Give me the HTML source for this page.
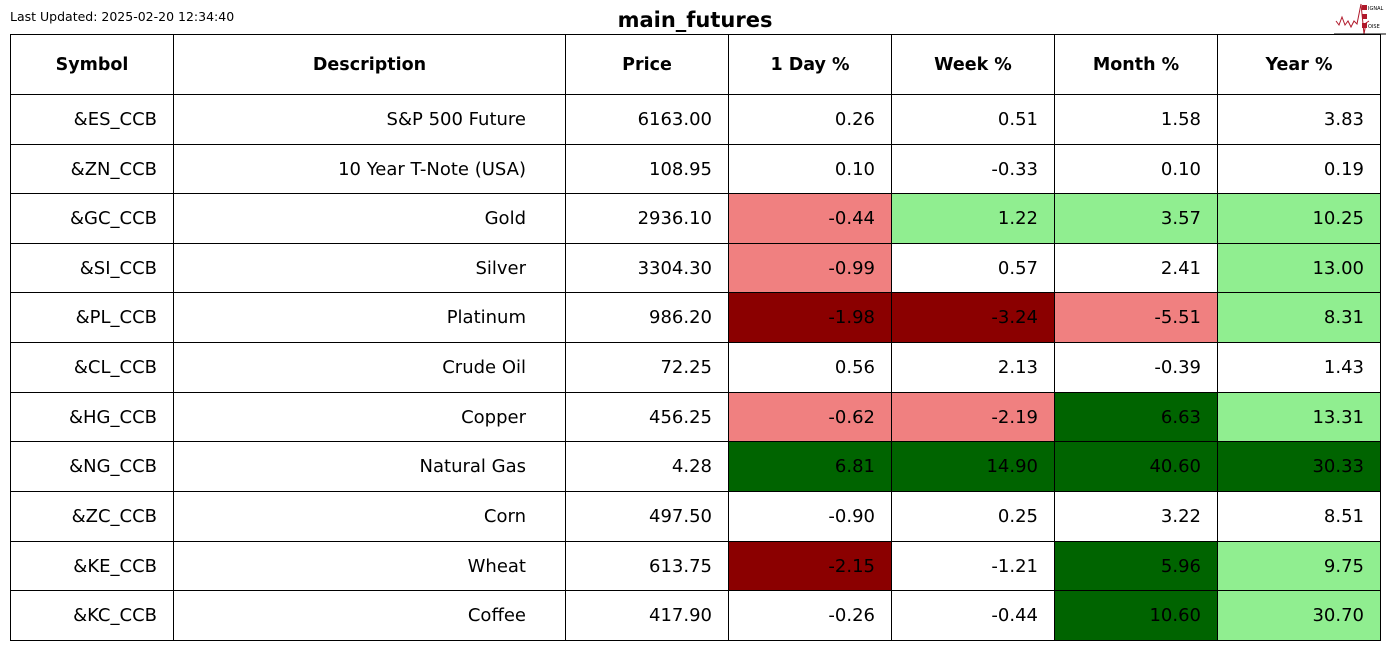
<!DOCTYPE html><html><head><style>
body{margin:0;width:1390px;height:650px;background:#fff;position:relative;font-family:"DejaVu Sans",sans-serif;overflow:hidden}
.c{position:absolute;border:1px solid #000;box-sizing:border-box;font-size:18px;display:flex;align-items:center;justify-content:flex-end;padding-right:16px;color:#000}
.h{justify-content:center;padding:0;font-weight:bold;font-size:17.5px}
.d{padding-right:39px}
</style></head><body>
<div style="position:absolute;left:10px;top:9px;font-size:12.5px">Last Updated: 2025-02-20 12:34:40</div>
<div style="position:absolute;left:0;width:1390px;top:8px;text-align:center;font-size:21px;font-weight:bold">main_futures</div>
<svg style="position:absolute;left:1334px;top:3px" width="52" height="32"><polyline points="2,18 5,22 8,14 11,22 14,18 17,24 20,18 23,21 27,1 30,31 32,20 35,18" fill="none" stroke="#b0182a" stroke-width="1"/><rect x="28" y="2" width="5" height="5" fill="#b0182a"/><rect x="28" y="11" width="5" height="5" fill="#b0182a"/><rect x="28" y="20" width="5" height="5" fill="#b0182a"/><text x="34" y="7" font-size="5" font-family="DejaVu Sans">IGNAL</text><text x="34" y="25" font-size="5" font-family="DejaVu Sans">OISE</text><line x1="0" y1="31" x2="52" y2="31" stroke="#000"/></svg>
<div id="t"></div>
<script>
const X=[10,173,565,728,891,1054,1217,1380];
const Y=[34,94,144,193,243,292,342,392,441,491,541,590,640];
const H=["Symbol","Description","Price","1 Day %","Week %","Month %","Year %"];
const R="#f08080",DR="#8b0000",G="#90ee90",DG="#006400",W="#fff";
const D=[
["&ES_CCB","S&P 500 Future","6163.00","0.26","0.51","1.58","3.83",W,W,W,W],
["&ZN_CCB","10 Year T-Note (USA)","108.95","0.10","-0.33","0.10","0.19",W,W,W,W],
["&GC_CCB","Gold","2936.10","-0.44","1.22","3.57","10.25",R,G,G,G],
["&SI_CCB","Silver","3304.30","-0.99","0.57","2.41","13.00",R,W,W,G],
["&PL_CCB","Platinum","986.20","-1.98","-3.24","-5.51","8.31",DR,DR,R,G],
["&CL_CCB","Crude Oil","72.25","0.56","2.13","-0.39","1.43",W,W,W,W],
["&HG_CCB","Copper","456.25","-0.62","-2.19","6.63","13.31",R,R,DG,G],
["&NG_CCB","Natural Gas","4.28","6.81","14.90","40.60","30.33",DG,DG,DG,DG],
["&ZC_CCB","Corn","497.50","-0.90","0.25","3.22","8.51",W,W,W,W],
["&KE_CCB","Wheat","613.75","-2.15","-1.21","5.96","9.75",DR,W,DG,G],
["&KC_CCB","Coffee","417.90","-0.26","-0.44","10.60","30.70",W,W,DG,G]];
let h="";
function cell(c,r,txt,cls,bg){h+=`<div class="c ${cls}" style="left:${X[c]}px;top:${Y[r]}px;width:${X[c+1]-X[c]+1}px;height:${Y[r+1]-Y[r]+1}px;background:${bg}">${txt.replace(/&/g,'&amp;')}</div>`}
H.forEach((t,c)=>cell(c,0,t,"h",W));
D.forEach((row,i)=>{for(let c=0;c<7;c++)cell(c,i+1,row[c],c==1?"d":"",c>=3?row[c+4]:W)});
document.getElementById("t").innerHTML=h;
</script>
</body></html>
